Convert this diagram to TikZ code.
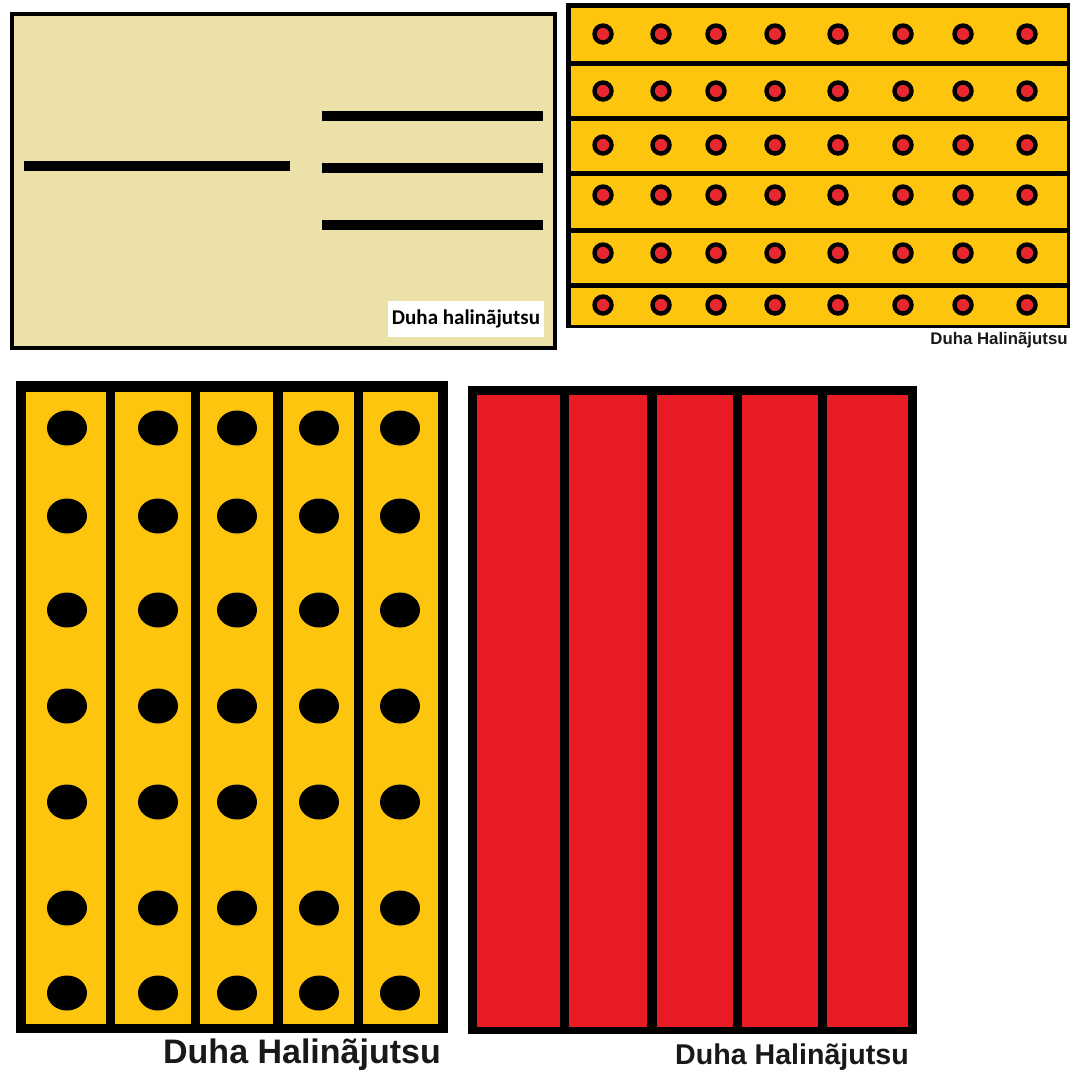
\documentclass[tikz,border=0pt]{standalone}
\usepackage{fontspec}
\usepackage{xcolor}
\newfontfamily\arialfont{Liberation Sans}
\newfontfamily\calibrifont{Carlito}

\begin{document}
\begin{tikzpicture}[x=0.5pt,y=-0.5pt]
                \colorlet{beigeFlag}{rgb,255:red,237;green,225;blue,170}
                \colorlet{goldFlag}{rgb,255:red,254;green,197;blue,14}
                \colorlet{redFlag}{rgb,255:red,232;green,28;blue,36}
                \colorlet{redDot}{rgb,255:red,232;green,40;blue,46}
                \tikzset{
                  bar/.style={line width=5pt, black},
                  ringdot/.style={fill=redDot, draw=black, line width=2.2pt},
                  blackdot/.style={fill=black},
                  caption/.style={font=\arialfont\bfseries, text=black!90, inner sep=0pt}
                }
                \useasboundingbox[fill=white] (0,0) rectangle (1076,1073);
                % beige flag with the three short bars
                \fill[black] (10,12) rectangle (557,350);
                \fill[beigeFlag] (14,16) rectangle (553,346);
                \draw[bar, line cap=butt] (24,166) -- (290,166);
                \foreach \y in {116,168,225} {
                  \draw[bar] (322,\y) -- (543,\y);
                }
                \node[font=\calibrifont\bfseries\fontsize{10.5}{12}\selectfont, fill=white,
                      inner xsep=2pt, inner ysep=4.5pt] (capA) at (466,319) {Duha halinãjutsu};
                % gold flag with six stripes and red dots
                \fill[black] (566,3) rectangle (1070,328);
                \foreach \ya/\yb in {8/60.5,65.5/115.5,120.5/170.5,175.5/227.5,232.5/282.5,287.5/325} {
                  \fill[goldFlag] (571,\ya) rectangle (1067,\yb);
                }
                \foreach \y in {34,91,145,195,253,305} {
                  \foreach \x in {603,661,716,775,838,903,963,1027} {
                    \filldraw[ringdot] (\x,\y) circle[radius=8.5];
                  }
                }
                \node[caption, font=\arialfont\bfseries\fontsize{8.4}{10}\selectfont] (capB) at (999,340) {Duha Halinãjutsu};
                % gold flag with five columns and black dots
                \fill[black] (16,381) rectangle (448,1033);
                \foreach \xa/\xb in {26/106,115/191,200/273,283/354,363/438} {
                  \fill[goldFlag] (\xa,392) rectangle (\xb,1024);
                }
                \foreach \y in {428,516,610,706,802,908,993} {
                  \foreach \x in {67,158,237,319,400} {
                    \fill[blackdot] (\x,\y) ellipse[x radius=20, y radius=17.5];
                  }
                }
                \node[caption, font=\arialfont\bfseries\fontsize{17}{20}\selectfont] (capC) at (302,1055) {Duha Halinãjutsu};
                % red flag with five columns
                \fill[black] (468,386) rectangle (917,1034);
                \foreach \xa/\xb in {477/560,569/647,657/733,742/818,827/908} {
                  \fill[redFlag] (\xa,395) rectangle (\xb,1027);
                }
                \node[caption, font=\arialfont\bfseries\fontsize{14.3}{17}\selectfont] (capD) at (792,1057) {Duha Halinãjutsu};
              \end{tikzpicture}
\end{document}
